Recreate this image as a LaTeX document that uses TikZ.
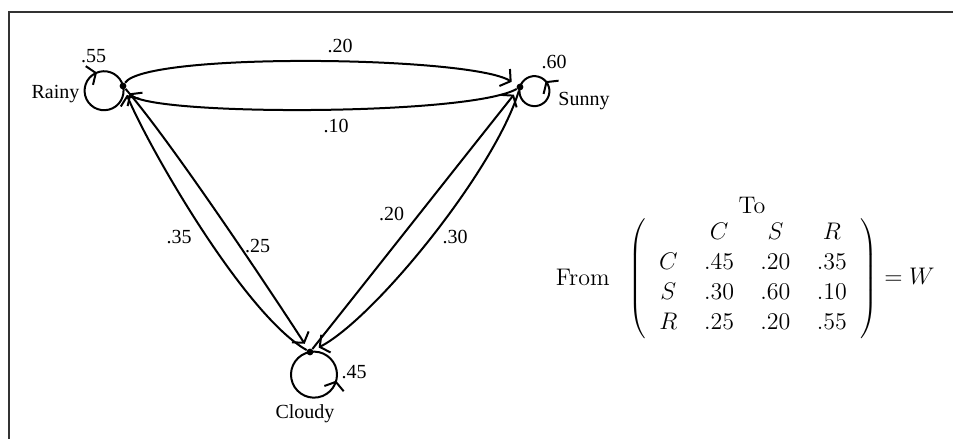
\documentclass[tikz,border=0pt]{standalone}
\usepackage{fontspec}
\newfontfamily\graphfont{Liberation Serif}
\usetikzlibrary{arrows.meta,decorations.markings}

\begin{document}
\begin{tikzpicture}[x=0.5pt,y=-0.5pt,
  >={Straight Barb[length=3.5pt,width=10pt]},
  statedot/.style={circle,fill,inner sep=0pt,minimum size=3.4pt},
  link/.style={line width=1pt,->,shorten >=3pt},
  selfloop/.style={line width=1pt,postaction={decorate},
    decoration={markings,mark=at position #1 with {\arrow{>}}}},
  lbl/.style={font=\graphfont\fontsize{10}{12}\selectfont,anchor=base,inner sep=0pt},
  mat/.style={font=\fontsize{12}{14.4}\selectfont,inner sep=0pt}]
\useasboundingbox (0,0) rectangle (953,439);
\draw[black!80, line width=0.7pt] (953,12) -- (9,12) -- (9,439);
\node[statedot] (rainy) at (123,86) {};
\node[statedot] (sunny) at (520,87) {};
\node[statedot] (cloudy) at (310,352) {};
\draw[selfloop=0.73] (rainy.center) arc[start angle=-14, delta angle=360, radius=19.5];
\draw[selfloop=0.66] (sunny.center) arc[start angle=196, delta angle=-360, radius=15];
\draw[selfloop=0.68] (cloudy.center) arc[start angle=-100, delta angle=-360, radius=23];
\draw[link] (rainy) .. controls (145,52) and (470,56) .. (sunny);
\draw[link] (sunny) .. controls (470,116) and (150,116) .. (rainy);
\draw[link] (cloudy) .. controls (245,315) and (150,150) .. (rainy);
\draw[link] (rainy) .. controls (170,140) and (270,290) .. (cloudy);
\draw[link] (cloudy) .. controls (380,264) and (450,175) .. (sunny);
\draw[link] (sunny) .. controls (495,170) and (375,318) .. (cloudy);
\node[lbl] (rainylbl) at (55.5,98) {Rainy};
\node[lbl] (sunnylbl) at (584,105) {Sunny};
\node[lbl] (cloudylbl) at (305,418) {Cloudy};
\node[lbl] (prr) at (93.5,62) {.55};
\node[lbl] (pss) at (554,68) {.60};
\node[lbl] (pcc) at (354,378) {.45};
\node[lbl] (prs) at (340,52) {.20};
\node[lbl] (psr) at (336,132) {.10};
\node[lbl] (pcr) at (179,243) {.35};
\node[lbl] (prc) at (257.5,252) {.25};
\node[lbl] (pcs) at (391.5,220) {.20};
\node[lbl] (psc) at (455,243) {.30};
\node[mat,anchor=base] (tolbl) at (752,213) {To};
\node[mat,anchor=base east] (fromlbl) at (610,285) {From};
\node[mat,anchor=west] (wmat) at (628,278.5) {\arraycolsep=6.6pt\renewcommand{\arraystretch}{1.04}%
  $\left(\begin{array}{cccc}
     & C & S & R\\
   C & .45 & .20 & .35\\
   S & .30 & .60 & .10\\
   R & .25 & .20 & .55
  \end{array}\right) = W$};
\end{tikzpicture}
\end{document}
